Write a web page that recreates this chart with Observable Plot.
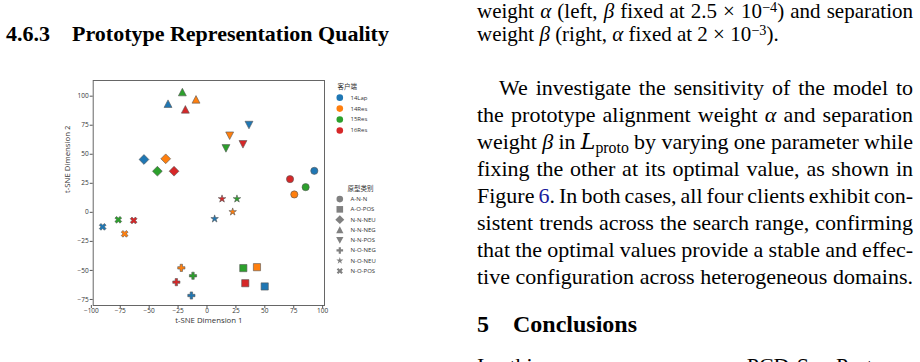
<!DOCTYPE html>
<html><head><meta charset="utf-8">
<script src="https://cdn.jsdelivr.net/npm/d3@7"></script>
<script src="https://cdn.jsdelivr.net/npm/@observablehq/plot@0.6"></script>
<style>
html,body{margin:0;padding:0;background:#fff;}
#page{position:relative;width:920px;height:362px;overflow:hidden;background:#fff;font-family:"Liberation Serif","Times New Roman",serif;color:#000;}
.abs{position:absolute;white-space:nowrap;line-height:1;}
.ln{position:absolute;left:477px;white-space:nowrap;line-height:1;font-size:22px;}
.cap{font-size:21px;}
.h{font-weight:bold;font-size:22px;}
i{font-style:italic;}
sup{font-size:0.68em;vertical-align:0;position:relative;top:-0.45em;}
sub{font-size:0.72em;vertical-align:0;position:relative;top:0.3em;}
.cal{font-family:"DejaVu Serif",serif;font-style:italic;}
.link{color:#1a1a9c;}
#chart,#leg1,#leg2{position:absolute;left:0;top:0;}
#leg1,#leg2{left:325px;}
svg text{font-family:"Open Sans","Noto Sans CJK SC",sans-serif;}
</style>
</head><body>
<div id="page">
  <div class="abs h" style="left:6px;top:22.5px;">4.6.3&nbsp;&nbsp;&nbsp;&nbsp;Prototype Representation Quality</div>

  <div class="ln cap" data-w="436" style="top:1.4px;">weight <i>α</i> (left, <i>β</i> fixed at 2.5 × 10<sup>−4</sup>) and separation</div>
  <div class="ln cap" data-w="0" style="top:24.4px;">weight <i>β</i> (right, <i>α</i> fixed at 2 × 10<sup>−3</sup>).</div>

  <div class="ln" data-w="414" style="left:499px;top:76.6px;">We investigate the sensitivity of the model to</div>
  <div class="ln" data-w="436" style="top:103.6px;">the prototype alignment weight <i>α</i> and separation</div>
  <div class="ln" data-w="436" style="top:130.6px;">weight <i>β</i> in <span class="cal">L</span><sub>proto</sub> by varying one parameter while</div>
  <div class="ln" data-w="436" style="top:157.6px;">fixing the other at its optimal value, as shown in</div>
  <div class="ln" data-w="436" style="top:184.6px;">Figure <span class="link">6</span>. In both cases, all four clients exhibit con-</div>
  <div class="ln" data-w="436" style="top:211.6px;">sistent trends across the search range, confirming</div>
  <div class="ln" data-w="436" style="top:238.6px;">that the optimal values provide a stable and effec-</div>
  <div class="ln" data-w="436" style="top:265.6px;">tive configuration across heterogeneous domains.</div>

  <div class="abs h" style="left:477px;top:311.5px;font-size:24px;">5&nbsp;&nbsp;&nbsp;&nbsp;Conclusions</div>
  <div class="ln" data-w="436" style="top:354.6px;">In this paper, we propose PCD-SemProto, a</div>

  <div id="chart"></div>
  <div id="leg1"></div>
  <div id="leg2"></div>
</div>
<script>
// ---------- data ----------
const clients = ["14Lap", "14Res", "15Res", "16Res"];
const clientColors = ["#1f77b4", "#ff7f0e", "#2ca02c", "#d62728"];
const protoTypes = ["A-N-N", "A-O-POS", "N-N-NEU", "N-N-NEG", "N-N-POS", "N-O-NEG", "N-O-NEU", "N-O-POS"];
// values per prototype, in client order 14Lap, 14Res, 15Res, 16Res
const xANN   = [92.8, 75.5, 85.3, 71.8];
const yANN   = [35.7, 15.4, 21.7, 28.6];
const xAOPOS = [49.9, 43.2, 31.4, 33.1];
const yAOPOS = [-63.8, -47.2, -48.0, -61.0];
const xNNNEU = [-54.5, -35.7, -42.9, -28.5];
const yNNNEU = [45.5, 46.1, 35.4, 35.4];
const xNNNEG = [-33.7, -9.5, -21.3, -18.7];
const yNNNEG = [93.4, 97.1, 103.4, 88.5];
const xNNPOS = [36.3, 19.6, 16.4, 31.1];
const yNNPOS = [75.3, 66.1, 55.2, 58.7];
const xNONEG = [-13.5, -22.2, -12.1, -26.5];
const yNONEG = [-71.6, -47.8, -54.6, -60.1];
const xNONEU = [6.6, 22.2, 25.9, 13.0];
const yNONEU = [-5.6, 0.4, 11.6, 11.6];
const xNOPOS = [-90.2, -71.2, -76.7, -63.4];
const yNOPOS = [-12.5, -18.5, -6.4, -7.0];
const xTicks = [-100, -75, -50, -25, 0, 25, 50, 75, 100];
const yTicks = [-75, -50, -25, 0, 25, 50, 75, 100];
const xLabel = "t-SNE Dimension 1";
const yLabel = "t-SNE Dimension 2";
const clientTitle = "客户端";
const protoTitle = "原型类别";

const xs = [xANN, xAOPOS, xNNNEU, xNNNEG, xNNPOS, xNONEG, xNONEU, xNOPOS];
const ys = [yANN, yAOPOS, yNNNEU, yNNNEG, yNNPOS, yNONEG, yNONEU, yNOPOS];
const points = [];
protoTypes.forEach((p, pi) => clients.forEach((c, ci) => points.push({proto: p, client: c, x: xs[pi][ci], y: ys[pi][ci]})));

// ---------- matplotlib-like marker symbols (m = marker size = 2r) ----------
const msize = (size) => 2 * Math.sqrt(size / Math.PI);
const poly = (pts) => ({draw(ctx, size) {
  const m = msize(size);
  pts.forEach(([a, b], i) => i ? ctx.lineTo(a * m, b * m) : ctx.moveTo(a * m, b * m));
  ctx.closePath();
}});
const symCircle = {draw(ctx, size) { const r = msize(size) / 2; ctx.moveTo(r, 0); ctx.arc(0, 0, r, 0, 2 * Math.PI); ctx.closePath(); }};
const symSquare = poly([[-0.5, -0.5], [0.5, -0.5], [0.5, 0.5], [-0.5, 0.5]]);
const symDiamond = poly([[0, -0.68], [0.68, 0], [0, 0.68], [-0.68, 0]]);
const symTriUp = poly([[0, -0.55], [0.55, 0.5], [-0.55, 0.5]]);
const symTriDown = poly([[0, 0.55], [0.55, -0.5], [-0.55, -0.5]]);
const plusPts = [[-1, -3], [1, -3], [1, -1], [3, -1], [3, 1], [1, 1], [1, 3], [-1, 3], [-1, 1], [-3, 1], [-3, -1], [-1, -1]].map(([a, b]) => [a / 6, b / 6]);
const symPlus = poly(plusPts);
const symX = poly(plusPts.map(([a, b]) => [(a - b) / Math.SQRT2, (a + b) / Math.SQRT2]));
const starPts = [];
for (let k = 0; k < 10; k++) {
  const rr = k % 2 ? 0.5 * 0.381966 : 0.5;
  const ang = -Math.PI / 2 + k * Math.PI / 5;
  starPts.push([rr * Math.cos(ang) * 1.1, rr * Math.sin(ang) * 1.1]);
}
const symStar = poly(starPts);
const protoSymbols = [symCircle, symSquare, symDiamond, symTriUp, symTriDown, symPlus, symStar, symX];

// ---------- main chart ----------
const chart = Plot.plot({
  width: 330, height: 335,
  marginLeft: 92.7, marginRight: 6, marginTop: 80, marginBottom: 30,
  style: {background: "transparent", color: "#333", fontSize: "6.5px"},
  x: {domain: [-98.4, 101.6]},
  y: {domain: [-80.2, 113.5]},
  color: {domain: clients, range: clientColors},
  symbol: {domain: protoTypes, range: protoSymbols},
  marks: [
    Plot.frame({stroke: "#666", strokeWidth: 1}),
    Plot.axisX(xTicks, {tickSize: 3, tickPadding: 0, fontSize: 6.5, label: null, stroke: "#555"}),
    Plot.axisY(yTicks, {tickSize: 3, tickPadding: 1.5, fontSize: 6.5, label: null, stroke: "#555"}),
    Plot.dot(points, {x: "x", y: "y", fill: "client", symbol: "proto", r: 3.6, stroke: "#555", strokeWidth: 0.6, fillOpacity: 1}),
    Plot.text([xLabel], {frameAnchor: "bottom", dy: 17.5, fontSize: 7.8, fill: "#333"}),
    Plot.text([yLabel], {frameAnchor: "left", dx: -26, rotate: -90, fontSize: 7.8, fill: "#333"})
  ]
});
document.getElementById("chart").appendChild(chart);

// ---------- legends ----------
const legendPlot = (title, names, fills, symbols, yRange, titleX) => {
  const items = names.map((n, i) => ({n, i: i + 1, f: fills[i], s: symbols[i]}));
  return Plot.plot({
    width: 95, height: 300, margin: 0,
    style: {background: "transparent", color: "#333"},
    x: {type: "linear", domain: [0, 95], range: [0, 95], axis: null},
    y: {type: "linear", domain: [0, names.length], range: yRange, axis: null},
    symbol: {type: "identity"},
    marks: [
      Plot.text([title], {x: () => titleX, y: () => 0, fontSize: 6.5, fill: "#333", textAnchor: "middle"}),
      Plot.dot(items, {x: () => 14.3, y: "i", fill: "f", symbol: "s", r: 3.3}),
      Plot.text(items, {x: () => 25, y: "i", text: "n", fontSize: 6, fill: "#333", textAnchor: "start"})
    ]
  });
};
document.getElementById("leg1").appendChild(
  legendPlot(clientTitle, clients, clientColors, clients.map(() => symCircle), [86.2, 130], 21.7));
document.getElementById("leg2").appendChild(
  legendPlot(protoTitle, protoTypes, protoTypes.map(() => "#808080"), protoSymbols, [188.3, 270.5], 35));

// ---------- justify text lines ----------
document.querySelectorAll(".ln").forEach(el => {
  const w = +el.dataset.w;
  if (!w) return;
  const natural = el.getBoundingClientRect().width;
  const spaces = (el.textContent.match(/ /g) || []).length;
  if (spaces) el.style.wordSpacing = ((w - natural) / spaces) + "px";
});
</script>
</body></html>
